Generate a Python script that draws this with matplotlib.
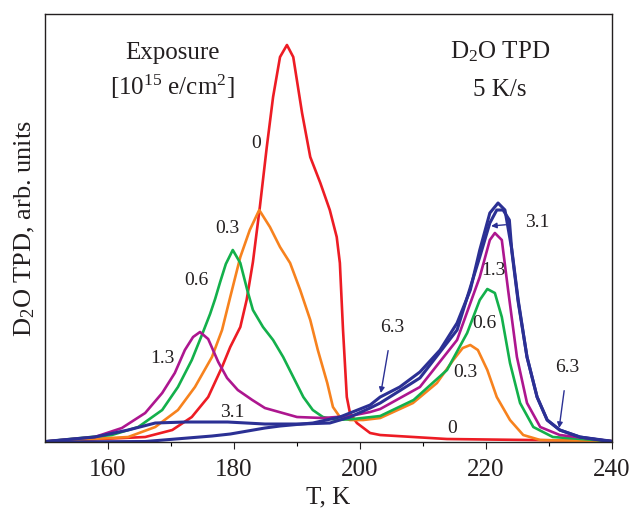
import numpy as np
import matplotlib
matplotlib.use("Agg")
import matplotlib.pyplot as plt

plt.rcParams['font.family'] = ['Liberation Serif', 'DejaVu Serif']
plt.rcParams['mathtext.fontset'] = 'custom'
plt.rcParams['mathtext.rm'] = 'Liberation Serif'
plt.rcParams['mathtext.it'] = 'Liberation Serif:italic'

# exposure 0
t_0 = [150.0, 165.9, 170.2, 173.3, 175.9, 178.1, 179.4, 181.0, 182.0, 183.0, 184.1,
       185.2, 186.2, 187.3, 188.4, 189.4, 190.8, 192.1, 193.7, 195.2, 196.3, 196.8,
       197.3, 197.9, 198.4, 199.5, 201.6, 203.2, 213.8, 239.7]
i_0 = [0.5, 5, 12, 25, 45, 75, 95, 115, 142, 180, 235,
       295, 345, 385, 397, 385, 329, 285, 259, 232, 205, 179,
       112, 45, 29, 19, 9, 7, 3, 1]

# exposure 0.3
t_03 = [150.0, 163.2, 167.5, 171.1, 173.8, 176.5, 178.1, 179.4, 181.0, 182.5, 184.0,
        185.7, 187.3, 188.9, 190.5, 192.1, 193.3, 194.8, 195.7, 196.8, 198.4, 200.5,
        203.2, 208.4, 212.2, 214.8, 216.3, 217.5, 218.7, 220.2, 221.7, 223.8, 225.9,
        228.6, 239.7]
i_03 = [0.5, 5, 15, 32, 55, 85, 112, 145, 185, 212, 232,
        215, 195, 179, 152, 122, 92, 59, 35, 25, 22, 22,
        24, 39, 59, 82, 94, 97, 92, 72, 45, 22, 7,
        2, 0.5]

# exposure 0.6
t_06 = [150.0, 160.6, 164.8, 168.6, 171.1, 173.3, 174.9, 176.2, 177.0, 177.8, 178.7,
        179.8, 181.0, 182.1, 183.0, 184.6, 186.2, 187.8, 189.4, 191.0, 192.5, 194.1,
        196.3, 198.9, 203.2, 208.5, 213.8, 217.0, 219.0, 220.2, 221.4, 222.5, 223.8,
        225.4, 227.5, 230.6, 239.7]
i_06 = [0.5, 7, 15, 32, 55, 82, 107, 128, 143, 160, 178,
        192, 179, 152, 132, 115, 102, 85, 65, 45, 32, 25,
        22, 23, 26, 42, 72, 109, 142, 153, 149, 125, 79,
        39, 15, 5, 1]

# exposure 1.3
t_13 = [150.0, 157.9, 162.2, 165.9, 168.6, 170.6, 172.2, 173.5, 174.6, 175.9, 177.5,
        178.9, 180.6, 182.9, 184.9, 190.0, 194.1, 198.4, 201.6, 203.2, 209.5, 215.4,
        219.0, 220.6, 221.4, 222.5, 223.5, 224.9, 226.5, 228.6, 231.7, 239.7]
i_13 = [0.5, 5, 14, 29, 49, 69, 92, 105, 110, 103, 80,
        64, 52, 42, 34, 25, 24, 26, 30, 33, 55, 102,
        165, 202, 209, 202, 152, 85, 39, 15, 7, 1]

# exposure 3.1
t_31 = [150.0, 157.9, 163.2, 167.5, 172.2, 179.0, 184.9, 190.5, 195.2, 198.4, 201.6,
        203.2, 209.5, 215.4, 219.0, 220.6, 221.7, 222.7, 223.7, 224.1, 225.1, 226.5,
        228.1, 229.7, 231.7, 234.9, 239.7]
i_31 = [0.5, 5, 12, 19, 20, 20, 18, 18, 19, 25, 34,
        39, 64, 112, 185, 219, 232, 232, 222, 190, 140, 85,
        45, 22, 12, 5, 1]

# exposure 6.3
t_63 = [150.0, 165.9, 176.5, 179.4, 184.9, 187.3, 192.5, 196.8, 201.6, 203.2, 206.3,
        209.5, 212.7, 215.4, 217.5, 219.0, 220.6, 221.9, 223.0, 224.1, 225.1, 226.5,
        228.1, 229.7, 231.7, 234.9, 239.7]
i_63 = [0, 0.5, 6, 8, 14, 16, 19, 25, 37, 45, 55,
        70, 92, 119, 152, 192, 229, 239, 232, 192, 142, 85,
        45, 22, 12, 5, 0.5]

fig = plt.figure(figsize=(6.31, 5.09), dpi=100)
ax = fig.add_axes([0.0713, 0.1316, 0.8987, 0.8409])

ax.plot(t_0, i_0, color='#ed1c24', lw=1.9)
ax.plot(t_03, i_03, color='#f7821e', lw=1.9)
ax.plot(t_06, i_06, color='#13b04b', lw=1.9)
ax.plot(t_13, i_13, color='#ad168f', lw=1.9)
ax.plot(t_31, i_31, color='#2b3094', lw=2.2)
ax.plot(t_63, i_63, color='#2b3094', lw=2.2)

ax.set_xlim(150, 240)
ax.set_ylim(0, 428)
ax.set_xticks([160, 180, 200, 220, 240])
ax.set_xticks([170, 190, 210, 230], minor=True)
ax.set_yticks([])
ax.tick_params(axis='x', which='major', direction='out', length=5, width=0.8,
               labelsize=18, colors='#231f20', pad=7)
ax.tick_params(axis='x', which='minor', direction='out', length=3, width=0.8)
for s in ax.spines.values():
    s.set_linewidth(1.0)
    s.set_color('#231f20')

ax.set_xlabel('T, K', fontsize=18, color='#231f20', labelpad=4)
ax.set_ylabel('D$_2$O TPD, arb. units', fontsize=19, color='#231f20', labelpad=6)

tc = '#231f20'
ax.text(170.3, 389, 'Exposure', fontsize=18, ha='center', va='center', color=tc)
ax.text(170.2, 355, '[10$^{15}$ e/cm$^{2}$]', fontsize=18, ha='center', va='center', color=tc)
ax.text(222.2, 390, 'D$_2$O TPD', fontsize=18, ha='center', va='center', color=tc)
ax.text(222.2, 352, '5 K/s', fontsize=18, ha='center', va='center', color=tc)

labels = [('0', 183.5, 299), ('0.3', 179.0, 214), ('0.6', 174.1, 162), ('1.3', 168.6, 84),
          ('3.1', 179.7, 30), ('1.3', 221.1, 172), ('0.6', 219.8, 119), ('0.3', 216.7, 70),
          ('0', 214.6, 14)]
for s, x, y in labels:
    ax.text(x, y, s, fontsize=14, ha='center', va='center', color=tc)

arr = dict(arrowstyle='-|>', color='#2b3094', lw=1.0, mutation_scale=8, shrinkA=0, shrinkB=0)
ax.annotate('6.3', xy=(203.3, 49), xytext=(205.1, 115), fontsize=14, ha='center', va='center',
            color=tc, arrowprops=dict(arr, shrinkA=9))
ax.annotate('3.1', xy=(220.8, 216), xytext=(228.1, 220), fontsize=14, ha='center', va='center',
            color=tc, arrowprops=dict(arr, shrinkA=12))
ax.annotate('6.3', xy=(231.6, 14), xytext=(232.9, 75), fontsize=14, ha='center', va='center',
            color=tc, arrowprops=dict(arr, shrinkA=9))

fig.savefig('out.png', dpi=100)
